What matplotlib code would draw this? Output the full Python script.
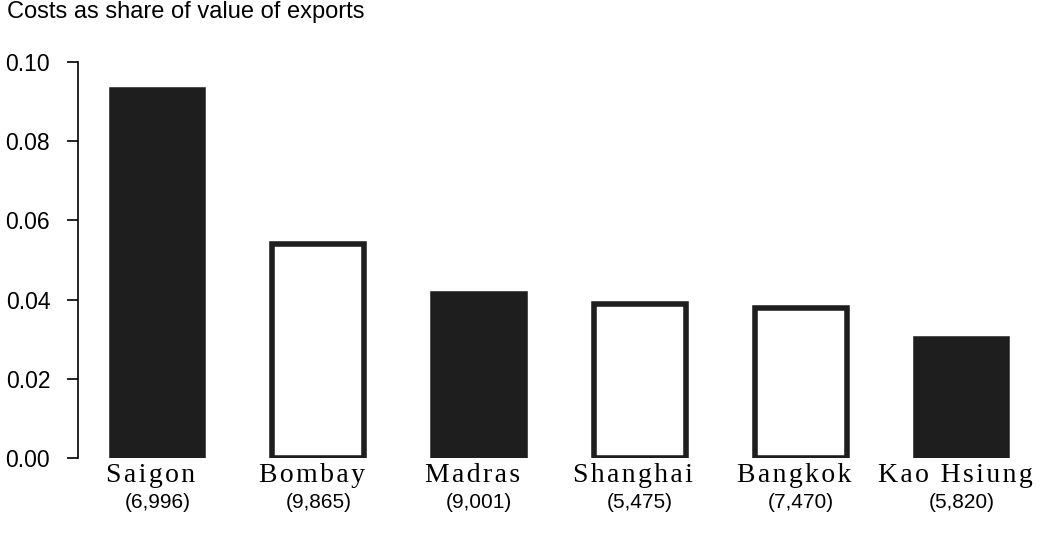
import matplotlib
matplotlib.use("Agg")
import matplotlib.pyplot as plt
import matplotlib.transforms as mtransforms

cities = ["Saigon", "Bombay", "Madras", "Shanghai", "Bangkok", "Kao Hsiung"]
sample_sizes = ["(6,996)", "(9,865)", "(9,001)", "(5,475)", "(7,470)", "(5,820)"]
cost_share = [0.093, 0.054, 0.0415, 0.039, 0.038, 0.030]
y_ticks = [0.00, 0.02, 0.04, 0.06, 0.08, 0.10]
y_tick_labels = ["0.00", "0.02", "0.04", "0.06", "0.08", "0.10"]

dark = "#1e1e1e"
fills = [dark, "white", dark, "white", "white", dark]

fig = plt.figure(figsize=(10.57, 5.52), dpi=100)
ax = fig.add_axes([78 / 1057, 94 / 552, 964 / 1057, 396 / 552])

x = list(range(len(cities)))
ax.bar(x, cost_share, width=0.57, color=fills, edgecolor=dark, linewidth=4)

ax.set_xlim(-0.494, 5.5)
ax.set_ylim(0, 0.10)
ax.set_yticks(y_ticks)
ax.set_yticklabels(y_tick_labels, fontfamily="Liberation Sans", fontsize=16.5)
ax.tick_params(axis="y", direction="out", length=8, width=1.2, pad=12)
ax.set_xticks([])
for s in ["top", "right", "bottom"]:
    ax.spines[s].set_visible(False)
ax.spines["left"].set_linewidth(1.2)

trans = mtransforms.blended_transform_factory(ax.transData, ax.transAxes)
hair = "\u200a"
for xi, city, n in zip(x, cities, sample_sizes):
    ax.text(xi - 0.04, -0.012, hair.join(city), transform=trans, ha="center", va="top",
            fontfamily="Liberation Serif", fontsize=20)
    ax.text(xi, -0.088, n, transform=trans, ha="center", va="top",
            fontfamily="Liberation Sans", fontsize=15)

fig.text(7 / 1057, 1 - 12 / 552, "Costs as share of value of exports", ha="left", va="center",
         fontfamily="Liberation Sans", fontsize=17)

fig.savefig("out.png", dpi=100)
